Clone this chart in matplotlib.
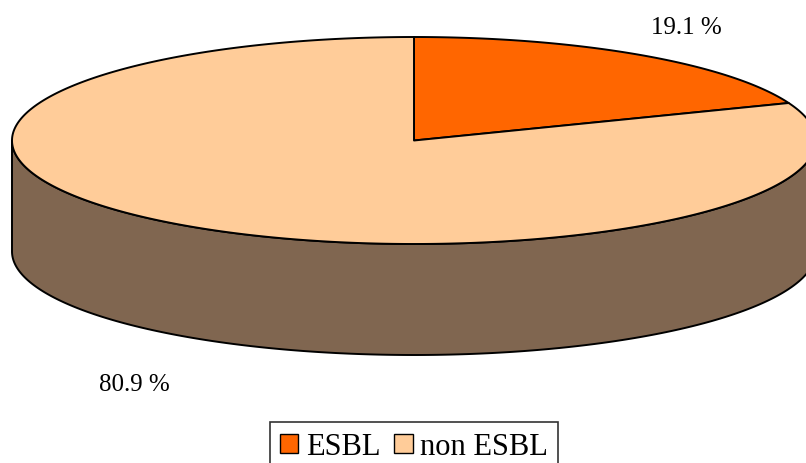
import numpy as np
import matplotlib
matplotlib.use("Agg")
import matplotlib.pyplot as plt
from matplotlib.patches import Polygon, Patch

# 饼图数据
labels = ["ESBL", "non ESBL"]
shares = [19.1, 80.9]
pct_text = ["19.1 %", "80.9 %"]
colors = ["#FF6600", "#FFCC99"]
side_color = "#806650"

plt.rcParams['font.family'] = ['Liberation Serif', 'DejaVu Serif']

W, H = 806, 464
fig = plt.figure(figsize=(W / 100, H / 100), dpi=100)
ax = fig.add_axes([0, 0, 1, 1])
ax.set_xlim(0, W)
ax.set_ylim(H, 0)
ax.axis('off')

# 椭圆几何 (像素)
cx, cy = 414, 141.5
a, b = 402, 103.5
depth = 111


def pt(t, dy=0.0):
    t = np.radians(t)
    return np.column_stack([cx + a * np.cos(t), cy - b * np.sin(t) + dy])


lw = 1.4

# 侧面（前半圈）
t_front = np.linspace(180, 360, 300)
side = np.vstack([pt(t_front), pt(t_front[::-1], depth)])
ax.add_patch(Polygon(side, closed=True, facecolor=side_color,
                     edgecolor='black', lw=lw, joinstyle='round'))

# 顶面扇区，从 12 点方向顺时针
start = 90.0
for share, col in zip(shares, colors):
    sweep = share / 100 * 360
    t = np.linspace(start, start - sweep, max(int(sweep * 2), 10))
    poly = np.vstack([[cx, cy], pt(t)])
    ax.add_patch(Polygon(poly, closed=True, facecolor=col,
                         edgecolor='black', lw=lw, joinstyle='round'))
    start -= sweep

# 百分比标签
ax.text(686, 28, pct_text[0], fontsize=18, ha='center', va='center')
ax.text(134, 385, pct_text[1], fontsize=18, ha='center', va='center')

# 图例（下边框超出画布）
handles = [Patch(facecolor=c, edgecolor='black', lw=1.0) for c in colors]
leg = fig.legend(handles, labels, loc='upper center', ncol=2,
                 bbox_to_anchor=(414 / W, 1 - 423 / H), fontsize=22,
                 frameon=True, fancybox=False, handlelength=0.6,
                 handleheight=0.6, handletextpad=0.25, columnspacing=0.45,
                 borderpad=0.33, borderaxespad=0)
leg.get_frame().set_edgecolor('black')
leg.get_frame().set_linewidth(1.2)

fig.savefig('out.png', dpi=100)
